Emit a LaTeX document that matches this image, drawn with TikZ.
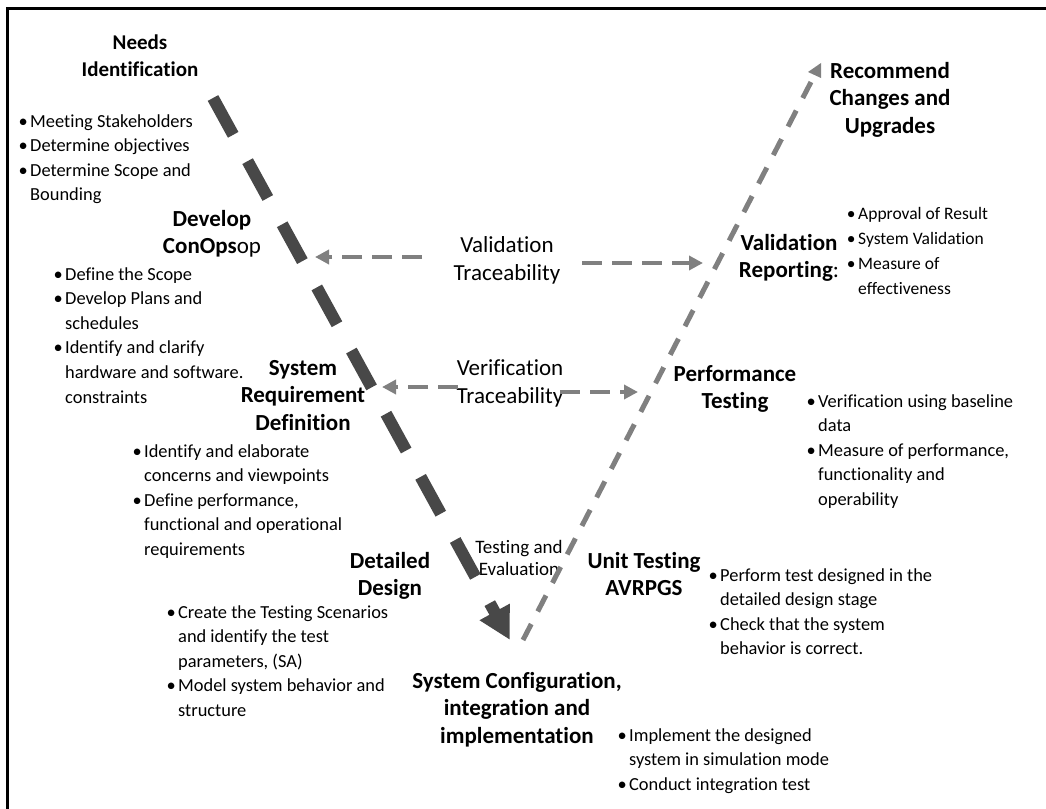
\documentclass[tikz,border=0pt]{standalone}
\usepackage{fontspec}
\setmainfont{Carlito}[Ligatures=NoCommon]
\usetikzlibrary{arrows.meta}
\definecolor{darkv}{RGB}{72,72,72}
\definecolor{grayv}{RGB}{128,128,128}
\newcommand\bu{\llap{•\hspace{2.5pt}}}
% note: anchor=base of a multi-line node is the baseline of its last line
\tikzset{
  head/.style={font=\bfseries\fontsize{23}{27.5}\selectfont, align=center, inner sep=0pt, anchor=base},
  blist/.style={font=\fontsize{18.4}{24.6}\selectfont, align=left, inner sep=0pt, anchor=base west},
  slist/.style={font=\fontsize{17.5}{25}\selectfont, align=left, inner sep=0pt, anchor=base west},
  trace/.style={font=\fontsize{23}{28}\selectfont, align=center, inner sep=0pt, anchor=base},
  small/.style={font=\fontsize{19}{22.5}\selectfont, align=center, inner sep=0pt, anchor=base},
  vdash/.style={draw=darkv, line width=12pt, dash pattern=on 42pt off 30pt, -{Triangle[length=32pt,width=32pt]}},
  gdash/.style={draw=grayv, line width=5pt, dash pattern=on 18pt off 14.1pt},
  harrow/.style={draw=grayv, line width=4pt, dash pattern=on 20pt off 10pt, -{Triangle[length=14pt,width=14pt]}},
  frame/.style={draw=black, line width=3pt}
}
\begin{document}
\begin{tikzpicture}[x=1pt,y=-1pt]
\useasboundingbox (0,0) rectangle (1046,808);
% frame (left and top edges)
\coordinate (fbl) at (7.5,810);
\coordinate (ftl) at (7.5,9);
\coordinate (ftr) at (1048,9);
\draw[frame] (fbl) -- (ftl) -- (ftr);

% headings
\node[head, font=\bfseries\fontsize{21}{27}\selectfont] (needs) at (140,77) {Needs\\Identification};
\node[head] (conops) at (212,253.5) {Develop\\ConOps\mdseries op};
\node[head] (sysreq) at (303,430) {System\\Requirement\\Definition};
\node[head] (detail) at (390,595.5) {Detailed\\Design};
\node[head] (config) at (517,743) {System Configuration,\\integration and\\implementation};
\node[head] (unit) at (644,595.5) {Unit Testing\\AVRPGS};
\node[head] (perf) at (735,408.5) {Performance\\Testing};
\node[head] (valrep) at (789,277.5) {Validation\\Reporting\mdseries :};
\node[head] (recom) at (890,133) {Recommend\\Changes and\\Upgrades};

% bullet lists
\node[blist] (nlist) at (30,200.8) {\bu Meeting Stakeholders\\\bu Determine objectives\\\bu Determine Scope and\\Bounding};
\node[blist] (clist) at (65,403) {\bu Define the Scope\\\bu Develop Plans and\\schedules\\\bu Identify and clarify\\hardware and software.\\constraints};
\node[blist] (srlist) at (144,555.4) {\bu Identify and elaborate\\concerns and viewpoints\\\bu Define performance,\\functional and operational\\requirements};
\node[blist] (dlist) at (178,716.4) {\bu Create the Testing Scenarios\\and identify the test\\parameters, (SA)\\\bu Model system behavior and\\structure};
\node[blist] (cfglist) at (629,790.2) {\bu Implement the designed\\system in simulation mode\\\bu Conduct integration test};
\node[blist] (ulist) at (720,654.8) {\bu Perform test designed in the\\detailed design stage\\\bu Check that the system\\behavior is correct.};
\node[blist] (plist) at (818,505.4) {\bu Verification using baseline\\data\\\bu Measure of performance,\\functionality and\\operability};
\node[slist] (vlist) at (858,294) {\bu Approval of Result\\\bu System Validation\\\bu Measure of\\effectiveness};

% traceability labels
\node[trace] (valtr) at (507,280) {Validation\\Traceability};
\node[trace] (vertr) at (510,403) {Verification\\Traceability};
\node[small] (testev) at (519,575.5) {Testing and\\Evaluation};

% V left arm (dark)
\coordinate (vtop) at (213,98);
\coordinate (vbot) at (510,640);
\draw[vdash] (vtop) -- (vbot);

% V right arm (gray)
\coordinate (rbot) at (523,640);
\coordinate (rtop) at (811,82);
\draw[gdash] (rbot) -- (rtop);
\coordinate (rt1) at (808,72);
\coordinate (rt2) at (821,63);
\coordinate (rt3) at (821,78);
\fill[grayv] (rt1) -- (rt2) -- (rt3) -- cycle;

% traceability arrows
\coordinate (va1) at (422,257);
\coordinate (va2) at (315,257);
\coordinate (va3) at (582,263);
\coordinate (va4) at (703,263);
\draw[harrow] (va1) -- (va2);
\draw[harrow] (va3) -- (va4);
\coordinate (ve1) at (458,387);
\coordinate (ve2) at (382,387);
\coordinate (ve3) at (560,392);
\coordinate (ve4) at (638,392);
\draw[harrow] (ve1) -- (ve2);
\draw[harrow] (ve3) -- (ve4);
\end{tikzpicture}
\end{document}
